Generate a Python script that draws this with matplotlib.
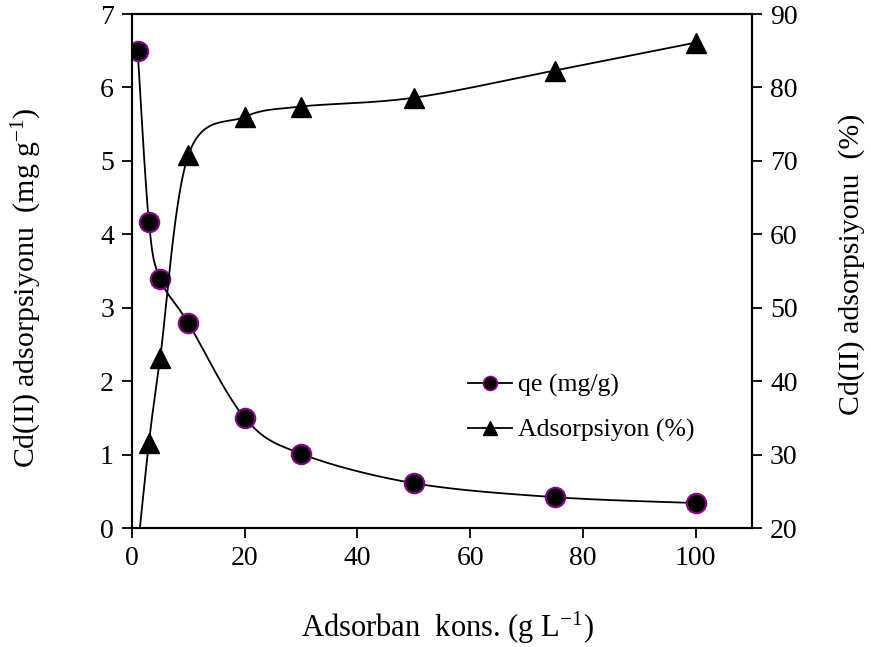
import numpy as np
import matplotlib
matplotlib.use("Agg")
import matplotlib.pyplot as plt
from matplotlib.lines import Line2D

plt.rcParams['font.family'] = ['Liberation Serif', 'DejaVu Serif']
plt.rcParams['mathtext.fontset'] = 'custom'
plt.rcParams['mathtext.rm'] = 'Liberation Serif'
plt.rcParams['mathtext.it'] = 'Liberation Serif:italic'

# data
dose = [1, 3, 5, 10, 20, 30, 50, 75, 100]
qe = [6.5, 4.17, 3.39, 2.79, 1.50, 1.01, 0.61, 0.42, 0.34]
ads_dose = [1, 3, 5, 10, 20, 30, 50, 75, 100]
ads = [17.0, 31.6, 43.2, 70.8, 76.0, 77.4, 78.6, 82.3, 86.1]

XLIM = (0, 110)
YL = (0, 7)
YR = (20, 90)
AXW, AXH = 620.0, 514.0


def smooth(xs, ys, xlim, ylim, n=40):
    # Catmull-Rom (Excel-like) smoothing in display-normalized space
    px = (np.asarray(xs, float) - xlim[0]) / (xlim[1] - xlim[0]) * AXW
    py = (np.asarray(ys, float) - ylim[0]) / (ylim[1] - ylim[0]) * AXH
    P = np.column_stack([px, py])
    P = np.vstack([P[0], P, P[-1]])
    out = []
    for i in range(1, len(P) - 2):
        p0, p1, p2, p3 = P[i - 1], P[i], P[i + 1], P[i + 2]
        c1 = p1 + (p2 - p0) / 6.0
        c2 = p2 - (p3 - p1) / 6.0
        t = np.linspace(0, 1, n)[:, None]
        seg = ((1 - t) ** 3) * p1 + 3 * ((1 - t) ** 2) * t * c1 + 3 * (1 - t) * t ** 2 * c2 + t ** 3 * p2
        out.append(seg if i == 1 else seg[1:])
    S = np.vstack(out)
    sx = S[:, 0] / AXW * (xlim[1] - xlim[0]) + xlim[0]
    sy = S[:, 1] / AXH * (ylim[1] - ylim[0]) + ylim[0]
    return sx, sy


fig = plt.figure(figsize=(8.71, 6.47), dpi=100)
ax = fig.add_axes([132 / 871, (647 - 528) / 647, 620 / 871, 514 / 647])
ax2 = ax.twinx()

sx, sy = smooth(dose, qe, XLIM, YL)
ax.plot(sx, sy, color='black', lw=1.3, zorder=2)
ax.plot(dose, qe, ls='none', marker='o', ms=14, mfc='black', mec='#8B008B', mew=1.5, zorder=3)

sx2, sy2 = smooth(ads_dose, ads, XLIM, YR)
ax2.plot(sx2, sy2, color='black', lw=1.3, zorder=2)
ax2.plot(ads_dose, ads, ls='none', marker='^', ms=15, mfc='black', mec='black', zorder=3)

ax.set_xlim(*XLIM)
ax.set_ylim(*YL)
ax2.set_ylim(*YR)
ax.set_xticks([0, 20, 40, 60, 80, 100])
ax.set_yticks(range(0, 8))
ax2.set_yticks(range(20, 91, 10))

for a in (ax, ax2):
    a.tick_params(direction='out', length=7, width=1.3, labelsize=20, pad=6)
    for s in a.spines.values():
        s.set_linewidth(1.5)

ax.set_xlabel('Adsorban  kons. (g L$^{-1}$)', fontsize=22)
ax.set_ylabel('Cd(II) adsorpsiyonu  (mg g$^{-1}$)', fontsize=21.5)
ax2.set_ylabel('Cd(II) adsorpsiyonu  (%)', fontsize=21.5)

ax.xaxis.set_label_coords((447 - 132) / 620, (528 - 628) / 514)
ax.xaxis.label.set_va('center')
ax.yaxis.set_label_coords((27 - 132) / 620, (528 - 288) / 514)
ax.yaxis.label.set_va('center')
ax2.yaxis.set_label_coords((852 - 132) / 620, (528 - 264) / 514)
ax2.yaxis.label.set_va('center')

h1 = Line2D([], [], color='black', lw=1.3, marker='o', ms=10, mfc='black', mec='#8B008B', mew=1.2)
h2 = Line2D([], [], color='black', lw=1.3, marker='^', ms=10, mfc='black', mec='black')
ax.legend([h1, h2], ['qe (mg/g)', 'Adsorpsiyon (%)'], loc='upper left',
          bbox_to_anchor=(0.505, 0.345), frameon=False, fontsize=18.5,
          handlelength=1.7, labelspacing=0.85, handletextpad=0.25)

fig.savefig('out.png', dpi=100)
